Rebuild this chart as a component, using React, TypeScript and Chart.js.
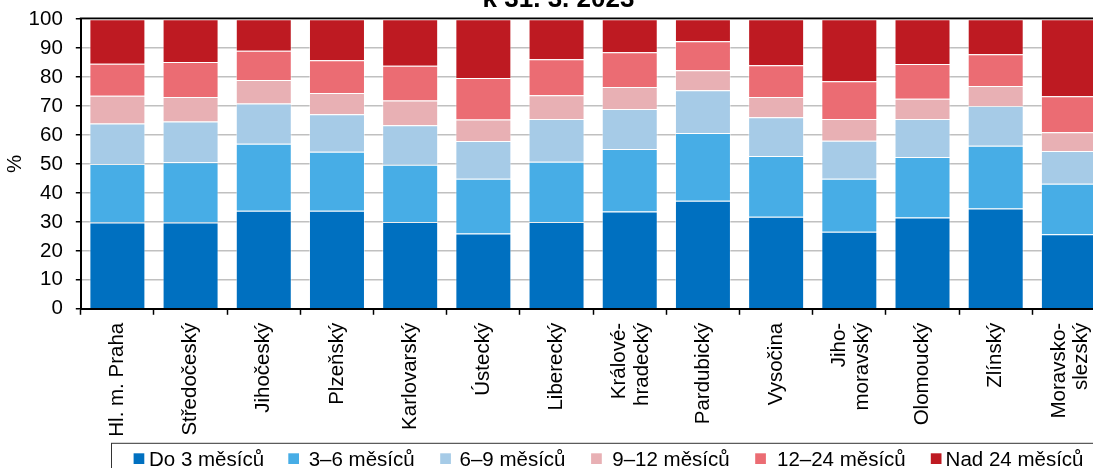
import React, { useEffect, useRef } from "react";
import { Chart, registerables } from "chart.js";

Chart.register(...registerables);

// ---------- data ----------
const categories: (string | string[])[] = [
  "Hl. m. Praha",
  "Středočeský",
  "Jihočeský",
  "Plzeňský",
  "Karlovarský",
  "Ústecký",
  "Liberecký",
  ["Králové-", "hradecký"],
  "Pardubický",
  "Vysočina",
  ["Jiho-", "moravský"],
  "Olomoucký",
  "Zlínský",
  ["Moravsko-", "slezský"],
];

const seriesNames = [
  "Do 3 měsíců",
  "3–6 měsíců",
  "6–9 měsíců",
  "9–12 měsíců",
  "12–24 měsíců",
  "Nad 24 měsíců",
];

const do3 = [29.8, 29.8, 33.9, 33.9, 30.0, 26.0, 30.0, 33.6, 37.3, 31.8, 26.6, 31.5, 34.6, 25.7];
const m3to6 = [20.2, 20.8, 23.1, 20.3, 19.7, 18.9, 20.8, 21.6, 23.4, 21.0, 18.3, 20.9, 21.7, 17.5];
const m6to9 = [14.0, 14.1, 13.9, 13.0, 13.7, 13.0, 14.7, 13.8, 14.8, 13.3, 13.1, 13.1, 13.7, 11.3];
const m9to12 = [9.6, 8.4, 8.1, 7.3, 8.5, 7.5, 8.2, 7.6, 6.9, 7.0, 7.5, 7.0, 6.9, 6.5];
const m12to24 = [11.0, 12.1, 10.1, 11.3, 12.0, 14.3, 12.5, 12.0, 10.0, 11.0, 13.1, 12.0, 11.0, 12.4];
const over24 = [15.4, 14.8, 10.9, 14.2, 16.1, 20.3, 13.8, 11.4, 7.6, 15.9, 21.4, 15.5, 12.1, 26.6];

const yMin = 0;
const yMax = 100;
const yStep = 10;

const titleText = "k 31. 3. 2023";
const yAxisTitle = "%";

// ---------- styles ----------
const seriesColors = ["#0070c0", "#47ade6", "#a6cbe7", "#e8b0b4", "#eb6c73", "#be1a22"];
const FONT = "'Liberation Sans', Arial, Helvetica, sans-serif";
const TEXT_SIZE = 20.5;

// canvas is shifted up by this many px so that the title is clipped like the reference
const SHIFT_Y = 20;
const CANVAS_W = 1110;
const CANVAS_H = 500;

// legend layout (canvas coords)
const LEGEND_BOX = { x: 111.5, y: 443.3 + SHIFT_Y };
const LEGEND_MARK_X = [133.6, 288.3, 440.2, 591.1, 755.2, 930.8];
const LEGEND_TEXT_X = [149, 308.7, 459.5, 612.3, 777, 945.6];
const LEGEND_MARK_Y = 453.3 + SHIFT_Y;
const LEGEND_MARK_SIZE = 10.7;
const LEGEND_BASELINE = 466.4 + SHIFT_Y;

const decorPlugin = {
  id: "decor",
  beforeDraw(chart: any) {
    const xs = chart.scales.x;
    if (!xs || typeof xs.getLabelItems !== "function") return;
    const items = xs.getLabelItems(chart.chartArea);
    items.forEach((it: any) => {
      if (Array.isArray(it.label) && it.label.length > 1 && !it.__shifted) {
        if (it.options && Array.isArray(it.options.translation)) {
          it.options.translation[0] -= 10;
          it.__shifted = true;
        }
      }
    });
  },
  afterDraw(chart: any) {
    const ctx: CanvasRenderingContext2D = chart.ctx;
    const a = chart.chartArea;
    ctx.save();
    // top frame line
    ctx.strokeStyle = "#000";
    ctx.lineWidth = 1.8;
    ctx.beginPath();
    ctx.moveTo(a.left - 1, a.top - 0.9);
    ctx.lineTo(a.right, a.top - 0.9);
    ctx.stroke();

    // title (clipped at top)
    ctx.fillStyle = "#000";
    ctx.font = `bold 26px ${FONT}`;
    ctx.textAlign = "center";
    ctx.textBaseline = "alphabetic";
    ctx.fillText(titleText, 558.5, 7 + SHIFT_Y);

    // legend
    ctx.strokeStyle = "#333";
    ctx.lineWidth = 1;
    ctx.strokeRect(LEGEND_BOX.x, LEGEND_BOX.y, 1200, 200);
    ctx.font = `${TEXT_SIZE}px ${FONT}`;
    ctx.textAlign = "left";
    seriesNames.forEach((name, i) => {
      ctx.fillStyle = seriesColors[i];
      ctx.fillRect(LEGEND_MARK_X[i], LEGEND_MARK_Y, LEGEND_MARK_SIZE, LEGEND_MARK_SIZE);
      ctx.fillStyle = "#000";
      ctx.fillText(name, LEGEND_TEXT_X[i], LEGEND_BASELINE);
    });
    ctx.restore();
  },
};

export default function App() {
  const ref = useRef<HTMLCanvasElement>(null);

  useEffect(() => {
    if (!ref.current) return;
    Chart.defaults.font.family = FONT;
    Chart.defaults.color = "#000";
    const series = [do3, m3to6, m6to9, m9to12, m12to24, over24];
    const chart = new Chart(ref.current, {
      type: "bar",
      data: {
        labels: categories as any,
        datasets: series.map((d, i) => ({
          label: seriesNames[i],
          data: d,
          backgroundColor: seriesColors[i],
          borderColor: "rgba(255,255,255,0.45)",
          borderWidth: 1,
          categoryPercentage: 1,
          barPercentage: 0.765,
        })),
      },
      options: {
        animation: false,
        responsive: false,
        devicePixelRatio: 1,
        layout: {
          padding: { top: 19.2 + SHIFT_Y, left: 0, right: CANVAS_W - 1105.5, bottom: CANVAS_H - (308.8 + SHIFT_Y) - 130 },
        },
        plugins: {
          legend: { display: false },
          title: { display: false },
          tooltip: { enabled: false },
        },
        scales: {
          x: {
            stacked: true,
            offset: true,
            grid: {
              display: true,
              offset: true,
              drawOnChartArea: false,
              drawTicks: true,
              tickLength: 6,
              tickColor: "#000",
              tickWidth: 1.5,
            },
            border: { display: true, color: "#000", width: 2 },
            ticks: {
              autoSkip: false,
              minRotation: 90,
              maxRotation: 90,
              padding: 8,
              color: "#000",
              font: { size: TEXT_SIZE, family: FONT, lineHeight: 1.1 },
            },
            afterFit: (s: any) => {
              s.height = 130;
              s.paddingLeft = 0;
              s.paddingRight = 0;
            },
          },
          y: {
            stacked: true,
            min: yMin,
            max: yMax,
            grid: {
              color: "#c0c0c0",
              lineWidth: 1.5,
              drawTicks: true,
              tickLength: 5,
              tickColor: "#000",
              tickWidth: 1.5,
            },
            border: { display: true, color: "#000", width: 2 },
            ticks: {
              stepSize: yStep,
              padding: 13,
              color: "#000",
              font: { size: TEXT_SIZE, family: FONT },
            },
            title: {
              display: true,
              text: yAxisTitle,
              color: "#000",
              font: { size: TEXT_SIZE, family: FONT },
              padding: { top: 3, bottom: 0 },
            },
            afterFit: (s: any) => {
              s.width = 80.8;
              s.paddingTop = 0;
              s.paddingBottom = 0;
            },
          },
        },
      },
      plugins: [decorPlugin],
    } as any);
    return () => chart.destroy();
  }, []);

  return (
    <div
      style={{
        position: "fixed",
        left: 0,
        top: 0,
        width: 1093,
        height: 468,
        overflow: "hidden",
        background: "#fff",
      }}
    >
      <div style={{ position: "absolute", left: 0, top: -SHIFT_Y, width: CANVAS_W, height: CANVAS_H }}>
        <canvas
          ref={ref}
          width={CANVAS_W}
          height={CANVAS_H}
          style={{ display: "block", width: CANVAS_W, height: CANVAS_H }}
        />
      </div>
    </div>
  );
}
